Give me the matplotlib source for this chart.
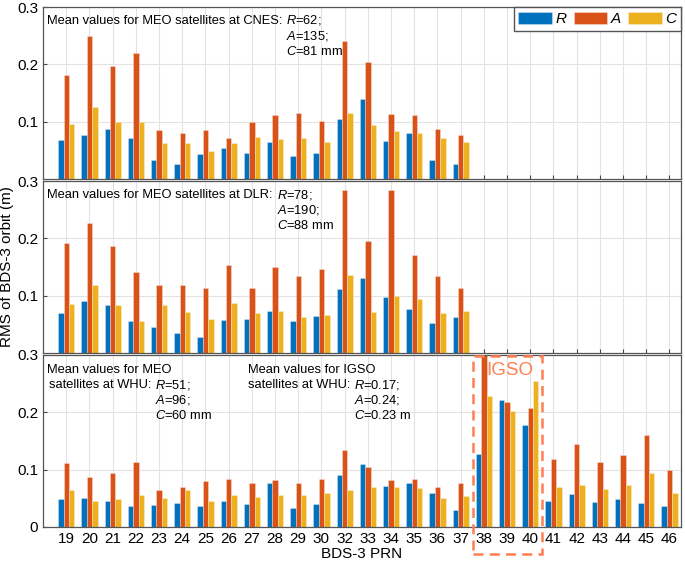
#%% Import packages
import numpy as np
import matplotlib
matplotlib.use('Agg')
import matplotlib.pyplot as plt
from matplotlib.patches import Rectangle

plt.rcParams['font.family'] = ['Liberation Sans', 'DejaVu Sans']
plt.rcParams['mathtext.fontset'] = 'custom'
plt.rcParams['mathtext.rm'] = 'Liberation Sans'
plt.rcParams['mathtext.it'] = 'Liberation Sans:italic'

#%% Data (RMS in m)
prn = [19, 20, 21, 22, 23, 24, 25, 26, 27, 28, 29, 30, 32, 33, 34, 35, 36, 37,
       38, 39, 40, 41, 42, 43, 44, 45, 46]
nan = np.nan
pad = [nan] * 9   # CNES and DLR have no values for PRN 38-46

cnes_R = [0.068, 0.076, 0.088, 0.072, 0.033, 0.027, 0.044, 0.054, 0.046, 0.065,
          0.041, 0.046, 0.104, 0.140, 0.066, 0.080, 0.033, 0.026] + pad
cnes_A = [0.181, 0.250, 0.197, 0.220, 0.085, 0.080, 0.085, 0.072, 0.099, 0.111,
          0.115, 0.101, 0.241, 0.205, 0.113, 0.111, 0.087, 0.076] + pad
cnes_C = [0.096, 0.125, 0.100, 0.100, 0.063, 0.062, 0.049, 0.063, 0.073, 0.070,
          0.072, 0.065, 0.115, 0.094, 0.084, 0.081, 0.072, 0.064] + pad

dlr_R = [0.070, 0.091, 0.084, 0.055, 0.046, 0.035, 0.028, 0.058, 0.059, 0.073,
         0.056, 0.064, 0.111, 0.131, 0.098, 0.076, 0.052, 0.062] + pad
dlr_A = [0.191, 0.227, 0.186, 0.142, 0.118, 0.119, 0.114, 0.153, 0.114, 0.150,
         0.134, 0.146, 0.285, 0.195, 0.285, 0.171, 0.134, 0.113] + pad
dlr_C = [0.085, 0.118, 0.083, 0.056, 0.084, 0.071, 0.060, 0.087, 0.070, 0.073,
         0.062, 0.067, 0.136, 0.071, 0.100, 0.094, 0.070, 0.073] + pad

whu_R = [0.048, 0.050, 0.046, 0.037, 0.038, 0.041, 0.036, 0.045, 0.040, 0.076,
         0.033, 0.040, 0.091, 0.110, 0.071, 0.076, 0.060, 0.029, 0.127, 0.222,
         0.177, 0.045, 0.057, 0.044, 0.048, 0.041, 0.037]
whu_A = [0.111, 0.088, 0.095, 0.114, 0.064, 0.069, 0.080, 0.083, 0.076, 0.082,
         0.077, 0.084, 0.135, 0.104, 0.082, 0.084, 0.069, 0.077, 0.310, 0.218,
         0.207, 0.118, 0.145, 0.114, 0.126, 0.160, 0.100]
whu_C = [0.064, 0.045, 0.048, 0.055, 0.050, 0.064, 0.045, 0.055, 0.053, 0.055,
         0.055, 0.060, 0.065, 0.069, 0.070, 0.068, 0.050, 0.054, 0.228, 0.202,
         0.254, 0.069, 0.074, 0.066, 0.074, 0.094, 0.060]

labels = ['R', 'A', 'C']
colors = ['#0072BD', '#D95319', '#EDB120']
igso_color = '#FF7F50'

#%% Figure with three stacked panels
fig = plt.figure(figsize=(6.85, 5.63), dpi=100)
left, width, height = 0.0628, 0.9314, 0.3055
ax1 = fig.add_axes([left, 0.682, width, height])
ax2 = fig.add_axes([left, 0.373, width, height])
ax3 = fig.add_axes([left, 0.064, width, height])

x = np.arange(len(prn))
bw = 0.233

def draw_panel(ax, series):
    for k, vals in enumerate(series):
        ax.bar(x + (k - 1) * bw, vals, width=bw, color=colors[k],
               edgecolor=(1, 1, 1, 0.35), linewidth=0.6, label=labels[k], zorder=2)
    ax.set_xlim(-1, 26.5)
    ax.set_ylim(0, 0.3)
    ax.set_xticks(x)
    ax.grid(True, color='#e3e3e3', linewidth=0.8, zorder=0)
    ax.set_axisbelow(True)
    ax.tick_params(direction='in', length=3, labelsize=11, color='#444444')
    for s in ax.spines.values():
        s.set_color('#555555')
        s.set_linewidth(0.9)

draw_panel(ax1, [cnes_R, cnes_A, cnes_C])
draw_panel(ax2, [dlr_R, dlr_A, dlr_C])
draw_panel(ax3, [whu_R, whu_A, whu_C])

for ax in (ax1, ax2):
    ax.set_yticks([0.1, 0.2, 0.3])
    ax.set_yticklabels(['0.1', '0.2', '0.3'])
    ax.tick_params(labelbottom=False)
ax3.set_yticks([0, 0.1, 0.2, 0.3])
ax3.set_yticklabels(['0', '0.1', '0.2', '0.3'])
ax3.set_xticklabels([str(p) for p in prn])

ax2.set_ylabel('RMS of BDS-3 orbit (m)', fontsize=11)
ax2.yaxis.set_label_coords(-0.045, 0.5)
ax3.set_xlabel('BDS-3 PRN', fontsize=11, labelpad=1)

#%% Legend
ax1.legend(loc='upper right', ncol=3, borderaxespad=0, borderpad=0.3,
           handlelength=2.2, handleheight=0.9, handletextpad=0.25,
           columnspacing=0.45, fancybox=False, edgecolor='#555555', framealpha=1,
           prop={'family': 'Liberation Sans', 'style': 'italic', 'size': 11})

#%% Mean value annotations
fs = 9.3
dy = 0.090   # line step in axes fraction

def mean_note(ax, x0, y0, head, values):
    # head text, then each R/A/C line starts right after it, baseline aligned
    t = ax.text(x0, y0, head, transform=ax.transAxes, va='baseline', ha='left', fontsize=fs)
    for i, line in enumerate(values):
        ax.annotate(line, xy=(1, y0 - i * dy), xycoords=(t, 'axes fraction'), xytext=(3, 0),
                    textcoords='offset points', va='baseline', ha='left', fontsize=fs)

mean_note(ax1, 0.006, 0.903, 'Mean values for MEO satellites at CNES:',
          ['$R$=62;', '$A$=135;', '$C$=81 mm'])
mean_note(ax2, 0.006, 0.899, 'Mean values for MEO satellites at DLR:',
          ['$R$=78;', '$A$=190;', '$C$=88 mm'])

ax3.text(0.006, 0.894, 'Mean values for MEO', transform=ax3.transAxes,
         va='baseline', ha='left', fontsize=fs)
mean_note(ax3, 0.009, 0.806, 'satellites at WHU:', ['$R$=51;', '$A$=96;', '$C$=60 mm'])

ax3.text(0.321, 0.894, 'Mean values for IGSO', transform=ax3.transAxes,
         va='baseline', ha='left', fontsize=fs)
mean_note(ax3, 0.321, 0.806, 'satellites at WHU:', ['$R$=0.17;', '$A$=0.24;', '$C$=0.23 m'])

#%% IGSO box
trans = matplotlib.transforms.blended_transform_factory(ax3.transData, ax3.transAxes)
box = Rectangle((17.52, -0.157), 3.0, 1.152, transform=trans, fill=False,
                edgecolor=igso_color, linewidth=1.8, linestyle=(0, (4, 2.5)),
                clip_on=False, zorder=5)
ax3.add_patch(box)
ax3.text(19.13, 0.909, 'IGSO', transform=trans, color=igso_color, fontsize=13.5,
         ha='center', va='center', zorder=6)

fig.savefig('out.png', dpi=100)
